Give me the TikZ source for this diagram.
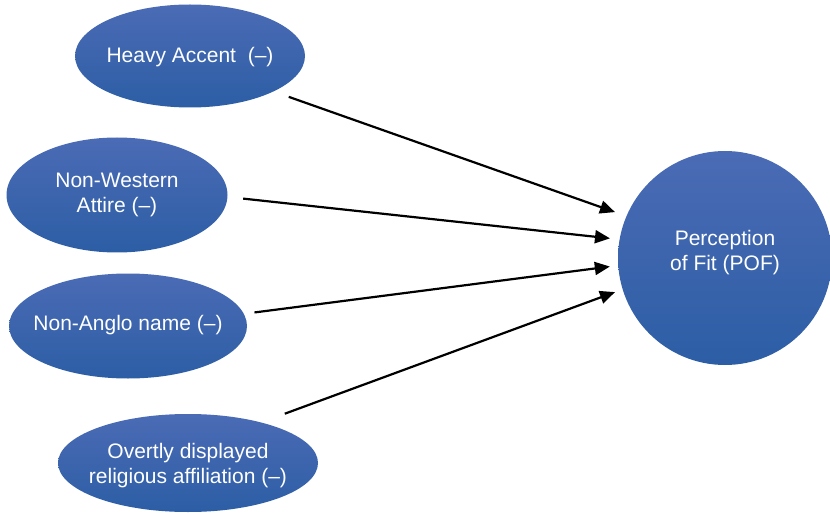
\documentclass[tikz,border=0pt]{standalone}
\usepackage{fontspec}
\setmainfont{Liberation Sans}
\usetikzlibrary{shapes.geometric,arrows.meta}

\definecolor{toneTop}{RGB}{75,107,181}
\definecolor{toneBot}{RGB}{44,94,165}
% keep the text from widening the ellipses; #1 moves it up or down
\newcommand{\slimtext}[2][-5pt]{\raisebox{#1}[0pt][0pt]{\makebox[0pt][c]{\begin{tabular}{@{}c@{}}#2\end{tabular}}}}

\begin{document}
\begin{tikzpicture}[
  x=1pt, y=-1pt,
  trait/.style={ellipse, inner sep=0pt, top color=toneTop, bottom color=toneBot,
                draw=none, text=white,
                font=\fontsize{21}{25.5}\selectfont},
  outcome/.style={circle, inner sep=0pt, minimum size=214pt, top color=toneTop,
                  bottom color=toneBot, draw=none, text=white,
                  font=\fontsize{21}{25.5}\selectfont},
  arr/.style={-{Triangle[length=15pt,width=13pt]}, line width=2.2pt},
]
  \useasboundingbox (0,0) rectangle (830,513);

  \node[trait, minimum width=230pt, minimum height=103pt] (accent) at (190,56)  {\slimtext[-7pt]{Heavy Accent\ \ (--)}};
  \node[trait, minimum width=221pt, minimum height=115pt] (attire) at (117,195) {\slimtext{Non-Western\\Attire (--)}};
  \node[trait, minimum width=238pt, minimum height=105pt] (name)   at (128,326) {\slimtext{Non-Anglo name (--)}};
  \node[trait, minimum width=260pt, minimum height=98pt]  (relig)  at (188,463) {\slimtext[-8pt]{Overtly displayed\\religious affiliation (--)}};
  \node[outcome] (pof) at (725,258) {\slimtext[0pt]{Perception\\of Fit (POF)}};

  \draw[arr, shorten <=16pt, shorten >=12pt]   (accent.-23.4) -- (pof.157.5);
  \draw[arr, shorten <=15.6pt, shorten >=9.5pt] (attire.-1.2) -- (pof.170.9);
  \draw[arr, shorten <=10.6pt, shorten >=8.3pt] (name.6.2)    -- (pof.-176.3);
  \draw[arr, shorten <=25pt, shorten >=8pt]     (relig.29.8)  -- (pof.-163);
\end{tikzpicture}
\end{document}
